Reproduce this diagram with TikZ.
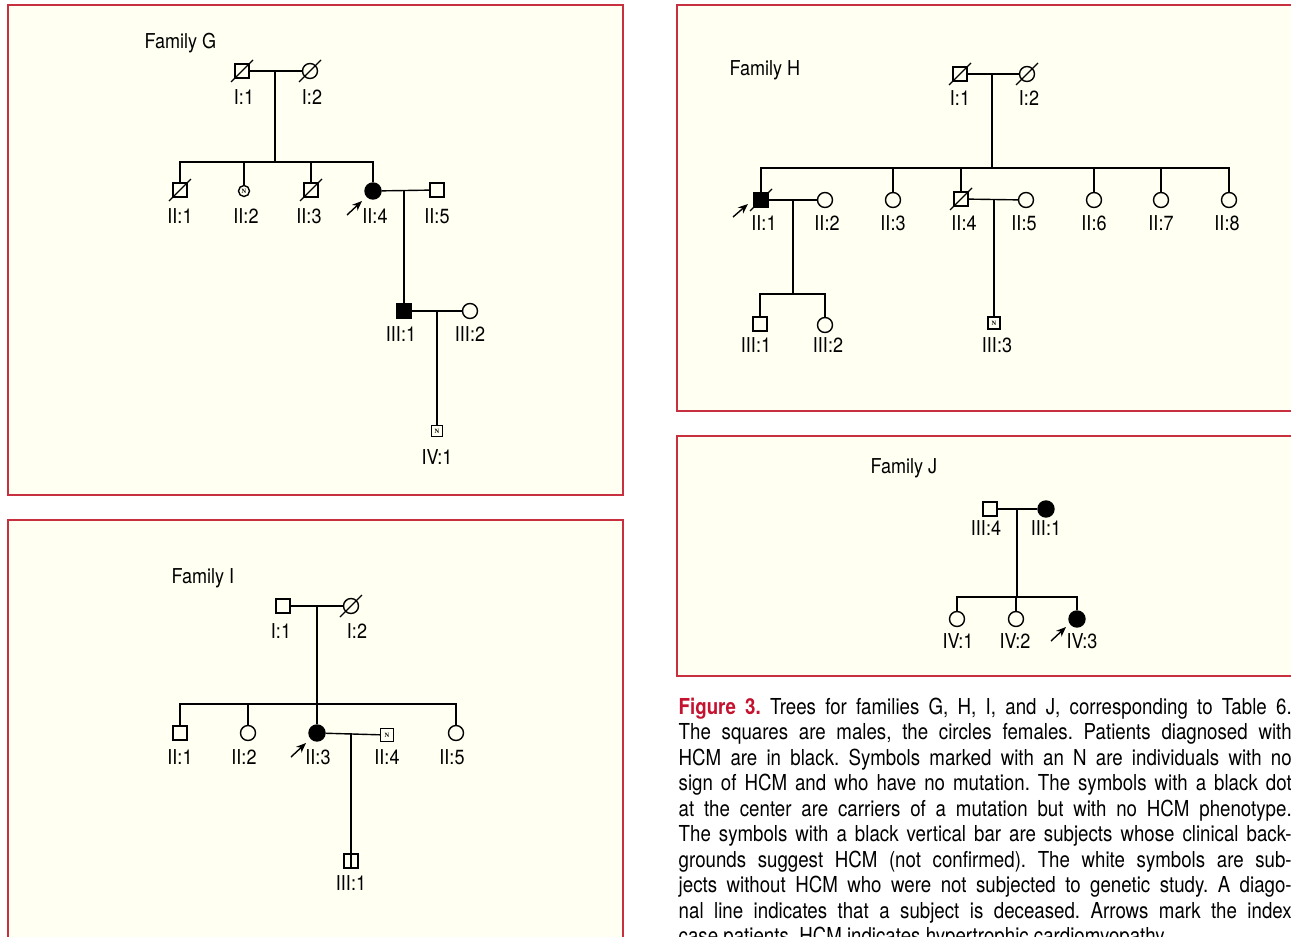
\documentclass[tikz,border=0pt]{standalone}
\usepackage{fontspec}
\usepackage{xcolor}
\usepackage{tikz}
\usetikzlibrary{positioning}
\usetikzlibrary{calc}
\usetikzlibrary{arrows.meta}
\setmainfont{TeX Gyre Heros}[FakeStretch=0.85]
\newfontfamily\lblfont{TeX Gyre Heros}[FakeStretch=0.88]
\newfontfamily\nfont{Liberation Serif}
\definecolor{boxred}{HTML}{C9303F}
\definecolor{boxfill}{HTML}{FFFFF2}
\definecolor{figred}{HTML}{C4122F}

\begin{document}
\begin{tikzpicture}[x=1pt,y=-1pt,line width=1.4pt,
  male/.style={draw,rectangle,minimum size=14pt,inner sep=0pt},
  female/.style={draw,circle,minimum size=15pt,inner sep=0pt},
  hcm/.style={fill=black},
  nmark/.style={minimum size=11pt,font=\nfont\bfseries\fontsize{6.5}{6.5}\selectfont},
  bar/.style={path picture={\draw[line width=1.6pt] (path picture bounding box.north) -- (path picture bounding box.south);}},
  lbl/.style={font=\lblfont\fontsize{20.5}{20.5}\selectfont,inner sep=0pt},
  fam/.style={lbl,anchor=west},
  proband/.style={-{Stealth[length=10pt,width=8pt]},line width=1.4pt},
  panel/.style={draw=boxred,fill=boxfill,line width=1.5pt}]
\useasboundingbox (0,0) rectangle (1291,937);
\clip (0,0) rectangle (1291,937);
\fill[white] (0,0) rectangle (1291,937);
% panels
\draw[panel] (8,5) rectangle (623,495);
\draw[panel] (8,520) rectangle (623,960);
\draw[panel] (677,5) rectangle (1310,411);
\draw[panel] (677,436) rectangle (1310,676);

% Family G
\node[fam] (famG) at (144,43) {Family G};
\node[male]   (g11) at (242,71) {};
\node[female] (g12) at (310,71) {};
\node[male]   (g21) at (180,190) {};
\node[female,nmark] (g22) at (244,191) {N};
\node[male]   (g23) at (311,190) {};
\node[female,hcm,minimum size=16pt] (g24) at (373,191) {};
\node[male]   (g25) at (437,190) {};
\node[male,hcm,minimum size=15pt] (g31) at (404,311) {};
\node[female,minimum size=15pt] (g32) at (470,311) {};
\node[male,nmark] (g41) at (437,431) {N};
\coordinate (gm1) at (275,71);
\coordinate (gs1) at (275,162);
\coordinate (gm2) at (404,190);
\coordinate (gm3) at (437,311);
\draw (g11) -- (g12);
\draw (gm1) -- (gs1);
\draw (g21) |- (gs1) -| (g24);
\draw (g22) -- (g22 |- gs1);
\draw (g23) -- (g23 |- gs1);
\draw (g24) -- (g25);
\draw (gm2) -- (g31);
\draw (g31) -- (g32);
\draw (gm3) -- (g41);
\node[lbl] (g11l) at (244,97) {I:1};
\node[lbl] (g12l) at (312,97) {I:2};
\node[lbl] (g21l) at (180,216) {II:1};
\node[lbl] (g22l) at (246,216) {II:2};
\node[lbl] (g23l) at (309,216) {II:3};
\node[lbl] (g24l) at (375,216) {II:4};
\node[lbl] (g25l) at (437,216) {II:5};
\node[lbl] (g31l) at (401,334) {III:1};
\node[lbl] (g32l) at (470,334) {III:2};
\node[lbl] (g41l) at (437,457) {IV:1};

% Family I
\node[fam] (famI) at (171,578) {Family I};
\node[male]   (i11) at (283,606) {};
\node[female] (i12) at (351,606) {};
\node[male]   (i21) at (180,733) {};
\node[female] (i22) at (248,733) {};
\node[female,hcm,minimum size=16pt] (i23) at (317,733) {};
\node[male,nmark,minimum size=13pt] (i24) at (387,735) {N};
\node[female] (i25) at (456,733) {};
\node[male,bar] (i31) at (351,861) {};
\coordinate (im1) at (317,606);
\coordinate (is1) at (317,704);
\coordinate (im2) at (351,733);
\draw (i11) -- (i12);
\draw (im1) -- (i23);
\draw (i21) |- (is1) -| (i25);
\draw (i22) -- (i22 |- is1);
\draw (i23) -- (i24);
\draw (im2) -- (i31);
\node[lbl] (i11l) at (281,631) {I:1};
\node[lbl] (i12l) at (357,631) {I:2};
\node[lbl] (i21l) at (180,757) {II:1};
\node[lbl] (i22l) at (244,757) {II:2};
\node[lbl] (i23l) at (318,757) {II:3};
\node[lbl] (i24l) at (387,757) {II:4};
\node[lbl] (i25l) at (452,757) {II:5};
\node[lbl] (i31l) at (351,883) {III:1};

% Family H
\node[fam] (famH) at (729,70) {Family H};
\node[male]   (h11) at (960,74) {};
\node[female] (h12) at (1027,74) {};
\node[male,hcm,minimum size=15pt] (h21) at (761,200) {};
\node[female] (h22) at (825,200) {};
\node[female] (h23) at (893,200) {};
\node[male]   (h24) at (961,199) {};
\node[female] (h25) at (1026,200) {};
\node[female] (h26) at (1094,200) {};
\node[female] (h27) at (1161,200) {};
\node[female] (h28) at (1229,200) {};
\node[male]   (h31) at (760,324) {};
\node[female] (h32) at (825,325) {};
\node[male,nmark,minimum size=12pt] (h33) at (994,323) {N};
\coordinate (hm1) at (992,74);
\coordinate (hs1) at (992,168);
\coordinate (hm2) at (793,200);
\coordinate (hs2) at (793,294);
\coordinate (hm3) at (994,199);
\draw (h11) -- (h12);
\draw (hm1) -- (hs1);
\draw (h21) |- (hs1) -| (h28);
\foreach \n in {h23,h24,h26,h27}
  \draw (\n) -- (\n |- hs1);
\draw (h21) -- (h22);
\draw (hm2) -- (hs2);
\draw (h31) |- (hs2) -| (h32);
\draw (h24) -- (h25);
\draw (hm3) -- (h33);
\node[lbl] (h11l) at (960,98) {I:1};
\node[lbl] (h12l) at (1029,98) {I:2};
\node[lbl] (h21l) at (764,223) {II:1};
\node[lbl] (h22l) at (827,223) {II:2};
\node[lbl] (h23l) at (893,223) {II:3};
\node[lbl] (h24l) at (964,223) {II:4};
\node[lbl] (h25l) at (1024,223) {II:5};
\node[lbl] (h26l) at (1094,223) {II:6};
\node[lbl] (h27l) at (1161,223) {II:7};
\node[lbl] (h28l) at (1227,223) {II:8};
\node[lbl] (h31l) at (756,345) {III:1};
\node[lbl] (h32l) at (828,345) {III:2};
\node[lbl] (h33l) at (997,345) {III:3};

% Family J
\node[fam] (famJ) at (870,468) {Family J};
\node[male]   (j11) at (990,509) {};
\node[female,hcm,minimum size=16pt] (j12) at (1046,509) {};
\node[female] (j21) at (957,619) {};
\node[female] (j22) at (1016,619) {};
\node[female,hcm,minimum size=16pt] (j23) at (1077,619) {};
\coordinate (jm1) at (1017,509);
\coordinate (js1) at (1017,597);
\draw (j11) -- (j12);
\draw (jm1) -- (js1);
\draw (j21) |- (js1) -| (j23);
\draw (j22) -- (j22 |- js1);
\node[lbl] (j11l) at (986,528) {III:4};
\node[lbl] (j12l) at (1046,528) {III:1};
\node[lbl] (j21l) at (958,641) {IV:1};
\node[lbl] (j22l) at (1015,641) {IV:2};
\node[lbl] (j23l) at (1082,641) {IV:3};

% deceased and index cases
\foreach \n in {g11,g12,g21,g23,i12,h11,h12,h21,h24}
  \draw[line width=1.2pt] ($(\n.center)+(-11,11)$) -- ($(\n.center)+(11,-11)$);
\foreach \n/\dy in {g24/0,i23/0,j23/-2}
  \draw[proband] ($(\n.center)+(-26,24+\dy)$) -- ($(\n.center)+(-11,10+\dy)$);
\draw[proband] ($(h21.center)+(-28,17)$) -- ($(h21.center)+(-13,4)$);

% caption
\node[anchor=north west,inner sep=0pt,text width=613pt,align=justify,
  font=\fontsize{22}{25.5}\selectfont] (cap) at (678,697)
  {\frenchspacing\tolerance=10000\hyphenpenalty=10000%
  \textcolor{figred}{\bfseries Figure 3.} Trees for families G, H, I, and J, corresponding to Table 6.\linebreak
  The squares are males, the circles females. Patients diagnosed with\linebreak
  HCM are in black. Symbols marked with an N are individuals with no\linebreak
  sign of HCM and who have no mutation. The symbols with a black dot\linebreak
  at the center are carriers of a mutation but with no HCM phenotype.\linebreak
  The symbols with a black vertical bar are subjects whose clinical back-\linebreak
  grounds suggest HCM (not confirmed). The white symbols are sub-\linebreak
  jects without HCM who were not subjected to genetic study. A diago-\linebreak
  nal line indicates that a subject is deceased. Arrows mark the index\linebreak
  case patients. HCM indicates hypertrophic cardiomyopathy.};
\end{tikzpicture}
\end{document}
